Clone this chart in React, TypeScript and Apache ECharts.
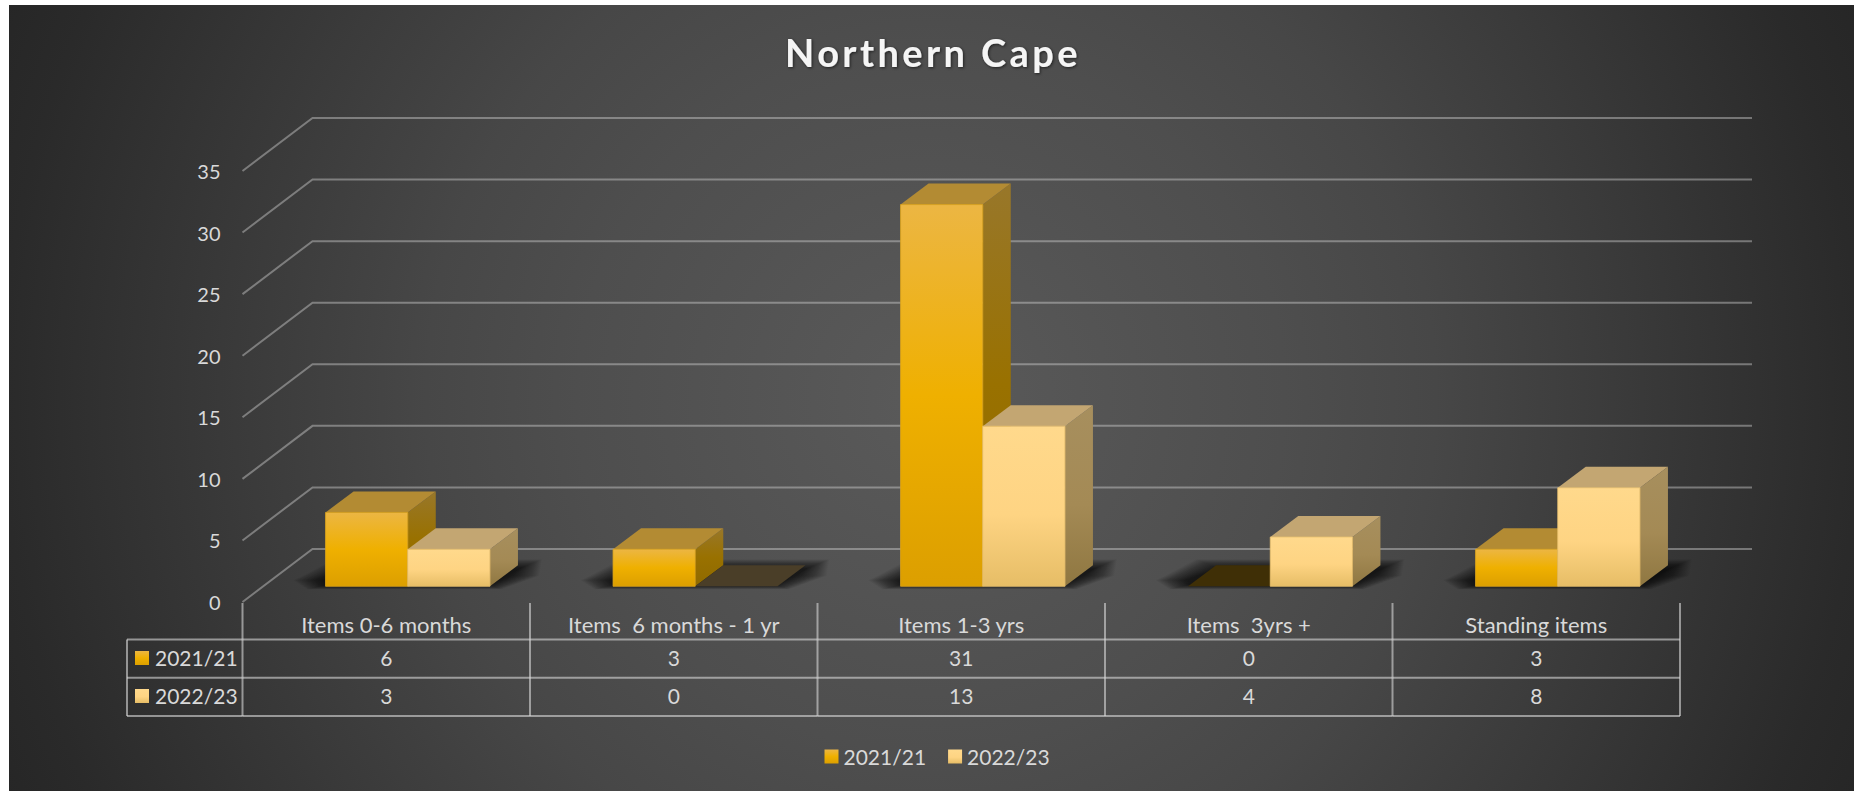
import React, { useEffect, useRef } from "react";
import * as echarts from "echarts";

const categories = ["Items 0-6 months", "Items  6 months - 1 yr", "Items 1-3 yrs", "Items  3yrs +", "Standing items"];
const seriesNames = ["2021/21", "2022/23"];
const values2021 = [6, 3, 31, 0, 3];
const values2022 = [3, 0, 13, 4, 8];
const yTicks = [0, 5, 10, 15, 20, 25, 30, 35];

const FONT = "Lato";
const TABLE_FONT_SIZE = 21;
const CATEGORY_FONT_SIZE = 22;
const AXIS_FONT_SIZE = 20;
const TEXT_COLOR = "#d9d9d9";
const GRID_LINE = "rgba(217,217,217,0.42)";
const TABLE_LINE = "rgba(217,217,217,0.6)";
const TITLE = "Northern Cape";

const WALL_DX = 70;
const WALL_DY = -53;
const BAR_FRONT_DX = 21.5;
const BAR_FRONT_DY = -15.7;
const BAR_DEPTH_DX = 28;
const BAR_DEPTH_DY = -21;
const BAR_WIDTH = 82.2;
const BACK_RIGHT_X = 1752;

const ROW_TOP = 639.5;
const ROW_1 = 677.8;
const ROW_2 = 716;
const TABLE_TOP = 603;
const TABLE_LEFT = 127;

const SHADOW_LAYERS = 26;
const SHADOW_FILL = "rgba(0,0,0,0.036)";

const vGrad = (stops: [number, string][]) =>
  new echarts.graphic.LinearGradient(0, 0, 0, 1, stops.map(([offset, color]) => ({ offset, color })));

const palettes = [
  {
    front: () => vGrad([[0, "#ecb643"], [0.5, "#efb000"], [1, "#dc9f00"]]),
    side: () => vGrad([[0, "#98772a"], [0.5, "#997100"], [1, "#8f6a00"]]),
    top: "#b38b33",
    zero: "#3f2f06",
    stroke: "#dda41c",
  },
  {
    front: () => vGrad([[0, "#ffd98c"], [0.55, "#fed483"], [1, "#e6bd66"]]),
    side: () => vGrad([[0, "#a78f5e"], [0.55, "#a48a55"], [1, "#8f7741"]]),
    top: "#c3a672",
    zero: "#4a3e28",
    stroke: "#eac26e",
  },
];

function wallItem(_: any, api: any) {
  const [fx, fy] = api.coord([0, api.value(0)]);
  const left = fx - api.size([1, 0])[0] / 2;
  const bx = left + WALL_DX;
  const by = fy + WALL_DY;
  return {
    type: "polyline",
    shape: { points: [[left, fy], [bx, by], [BACK_RIGHT_X, by]] },
    style: { stroke: GRID_LINE, lineWidth: 2, fill: "none" },
    silent: true,
  };
}

function shadowItem(_: any, api: any) {
  const [cx, fy] = api.coord([api.value(0), 0]);
  const c = cx + BAR_FRONT_DX;
  const y = fy + BAR_FRONT_DY;
  const l = c - BAR_WIDTH;
  const r = c + BAR_WIDTH;
  const dx = BAR_DEPTH_DX;
  const dy = BAR_DEPTH_DY;
  const children: any[] = [];
  for (let k = 0; k < SHADOW_LAYERS; k++) {
    const t = 1 - k / (SHADOW_LAYERS - 1);
    const ex = 34 * t;
    const yBottom = y - 2 + 5 * t;
    const yTop = y + dy + 4 - 10 * t;
    const yMid = y + dy * 0.5;
    children.push({
      type: "polygon",
      shape: {
        points: [
          [l + 2 - ex * 0.6, yBottom],
          [r - 2 + ex * 0.4, yBottom],
          [r + dx * 0.6 + ex * 0.95, yMid],
          [r + dx + ex * 0.7, yTop],
          [l + dx + 4 - ex * 0.7, yTop],
          [l + dx * 0.4 - ex, yMid],
          [l - ex * 0.95, y - 6],
        ],
      },
      style: { fill: SHADOW_FILL },
    });
  }
  return { type: "group", silent: true, children };
}

const barItem = (idx: number) => (_: any, api: any) => {
  const p = palettes[idx];
  const v = api.value(1);
  const [cx, fy] = api.coord([api.value(0), 0]);
  const top = api.coord([api.value(0), v])[1] + BAR_FRONT_DY;
  const y0 = fy + BAR_FRONT_DY;
  const x0 = cx + BAR_FRONT_DX - (idx === 0 ? BAR_WIDTH : 0);
  const x1 = x0 + BAR_WIDTH;
  const dx = BAR_DEPTH_DX;
  const dy = BAR_DEPTH_DY;
  const topFace = {
    type: "polygon",
    shape: { points: [[x0, top], [x1, top], [x1 + dx, top + dy], [x0 + dx, top + dy]] },
    style: { fill: v === 0 ? p.zero : p.top },
  };
  if (v === 0) return { type: "group", silent: true, children: [topFace] };
  return {
    type: "group",
    silent: true,
    children: [
      {
        type: "polygon",
        shape: { points: [[x1, top], [x1 + dx, top + dy], [x1 + dx, y0 + dy], [x1, y0]] },
        style: { fill: p.side() },
      },
      topFace,
      {
        type: "rect",
        shape: { x: x0, y: top, width: BAR_WIDTH, height: y0 - top },
        style: { fill: p.front(), stroke: p.stroke, lineWidth: 0.8 },
      },
    ],
  };
};

function line(x1: number, y1: number, x2: number, y2: number) {
  return { type: "line", shape: { x1, y1, x2, y2 }, style: { stroke: TABLE_LINE, lineWidth: 2 } };
}

function text(t: string, x: number, y: number, align: string) {
  return {
    type: "text",
    style: { text: t, x, y, align, verticalAlign: "middle", fill: TEXT_COLOR, font: `${TABLE_FONT_SIZE}px ${FONT}` },
  };
}

function tableItem(_: any, api: any) {
  const i = api.value(0);
  const [cx] = api.coord([i, 0]);
  const band = api.size([1, 0])[0];
  const l = cx - band / 2;
  const r = cx + band / 2;
  const children: any[] = [
    line(r, TABLE_TOP, r, ROW_2),
    line(l, ROW_TOP, r, ROW_TOP),
    line(l, ROW_1, r, ROW_1),
    line(l, ROW_2, r, ROW_2),
    text(String(values2021[i]), cx, (ROW_TOP + ROW_1) / 2 - 1, "center"),
    text(String(values2022[i]), cx, (ROW_1 + ROW_2) / 2 - 1, "center"),
  ];
  if (i === 0) {
    children.push(
      line(l, TABLE_TOP, l, ROW_2),
      line(TABLE_LEFT, ROW_TOP, l, ROW_TOP),
      line(TABLE_LEFT, ROW_1, l, ROW_1),
      line(TABLE_LEFT, ROW_2, l, ROW_2),
      line(TABLE_LEFT, ROW_TOP, TABLE_LEFT, ROW_2),
      { type: "rect", shape: { x: 135, y: 651, width: 14, height: 14 }, style: { fill: palettes[0].front() } },
      { type: "rect", shape: { x: 135, y: 689, width: 14, height: 14 }, style: { fill: palettes[1].front() } },
      text(seriesNames[0], 155, (ROW_TOP + ROW_1) / 2 - 1, "left"),
      text(seriesNames[1], 155, (ROW_1 + ROW_2) / 2 - 1, "left")
    );
  }
  return { type: "group", silent: true, children };
}

export default function App() {
  const ref = useRef<HTMLDivElement>(null);
  useEffect(() => {
    const chart = echarts.init(ref.current!, undefined, { renderer: "svg" });
    const spaceTitle = () => {
      ref.current?.querySelectorAll("text").forEach((el) => {
        if (el.textContent === TITLE) (el as any).style.letterSpacing = "3.4px";
      });
    };
    chart.on("finished", spaceTitle);
    chart.setOption({
      animation: false,
      backgroundColor: "#ffffff",
      graphic: [
        {
          type: "rect",
          z: -10,
          silent: true,
          shape: { x: 9, y: 5, width: 1845, height: 786 },
          style: {
            fill: new echarts.graphic.RadialGradient(
              931,
              398,
              1010,
              [
                { offset: 0, color: "#5a5a5a" },
                { offset: 0.35, color: "#4e4e4e" },
                { offset: 0.5, color: "#474747" },
                { offset: 0.69, color: "#3a3a3a" },
                { offset: 0.92, color: "#2a2a2a" },
                { offset: 1, color: "#262626" },
              ],
              true
            ),
          },
        },
      ],
      title: {
        text: TITLE,
        left: 928,
        top: 28,
        textAlign: "center",
        textStyle: {
          color: "#f5f5f5",
          fontFamily: FONT,
          fontWeight: "bold",
          fontSize: 38,
          textShadowColor: "rgba(0,0,0,0.6)",
          textShadowBlur: 3,
          textShadowOffsetX: 1,
          textShadowOffsetY: 1,
        },
      },
      legend: {
        data: seriesNames,
        left: 824.5,
        top: 746,
        padding: 0,
        icon: "rect",
        itemWidth: 14,
        itemHeight: 14,
        itemGap: 22,
        selectedMode: false,
        textStyle: { color: TEXT_COLOR, fontFamily: FONT, fontSize: TABLE_FONT_SIZE },
      },
      grid: { left: 242.5, top: 171, width: 1437.5, height: 431, containLabel: false },
      xAxis: {
        type: "category",
        data: categories,
        axisLine: { show: false },
        axisTick: { show: false },
        splitLine: { show: false },
        axisLabel: { interval: 0, color: TEXT_COLOR, fontFamily: FONT, fontSize: CATEGORY_FONT_SIZE, margin: 11 },
      },
      yAxis: {
        type: "value",
        min: 0,
        max: 35,
        interval: 5,
        axisLine: { show: false },
        axisTick: { show: false },
        splitLine: { show: false },
        axisLabel: { color: TEXT_COLOR, fontFamily: FONT, fontSize: AXIS_FONT_SIZE, margin: 22 },
      },
      series: [
        {
          type: "custom",
          name: "walls",
          z: 1,
          clip: false,
          silent: true,
          data: yTicks.map((t) => [t]),
          encode: { y: 0 },
          renderItem: wallItem,
        },
        {
          type: "custom",
          name: "shadows",
          z: 2,
          clip: false,
          silent: true,
          data: categories.map((_, i) => [i]),
          encode: { x: 0 },
          renderItem: shadowItem,
        },
        {
          type: "custom",
          name: seriesNames[0],
          z: 3,
          clip: false,
          itemStyle: { color: palettes[0].front() },
          data: values2021.map((v, i) => [i, v]),
          encode: { x: 0, y: 1 },
          renderItem: barItem(0),
        },
        {
          type: "custom",
          name: seriesNames[1],
          z: 4,
          clip: false,
          itemStyle: { color: palettes[1].front() },
          data: values2022.map((v, i) => [i, v]),
          encode: { x: 0, y: 1 },
          renderItem: barItem(1),
        },
        {
          type: "custom",
          name: "table",
          z: 5,
          clip: false,
          silent: true,
          data: categories.map((_, i) => [i]),
          encode: { x: 0 },
          renderItem: tableItem,
        },
      ],
    });
    spaceTitle();
    return () => chart.dispose();
  }, []);
  return <div ref={ref} style={{ position: "fixed", left: 0, top: 0, width: 1854, height: 791 }} />;
}
